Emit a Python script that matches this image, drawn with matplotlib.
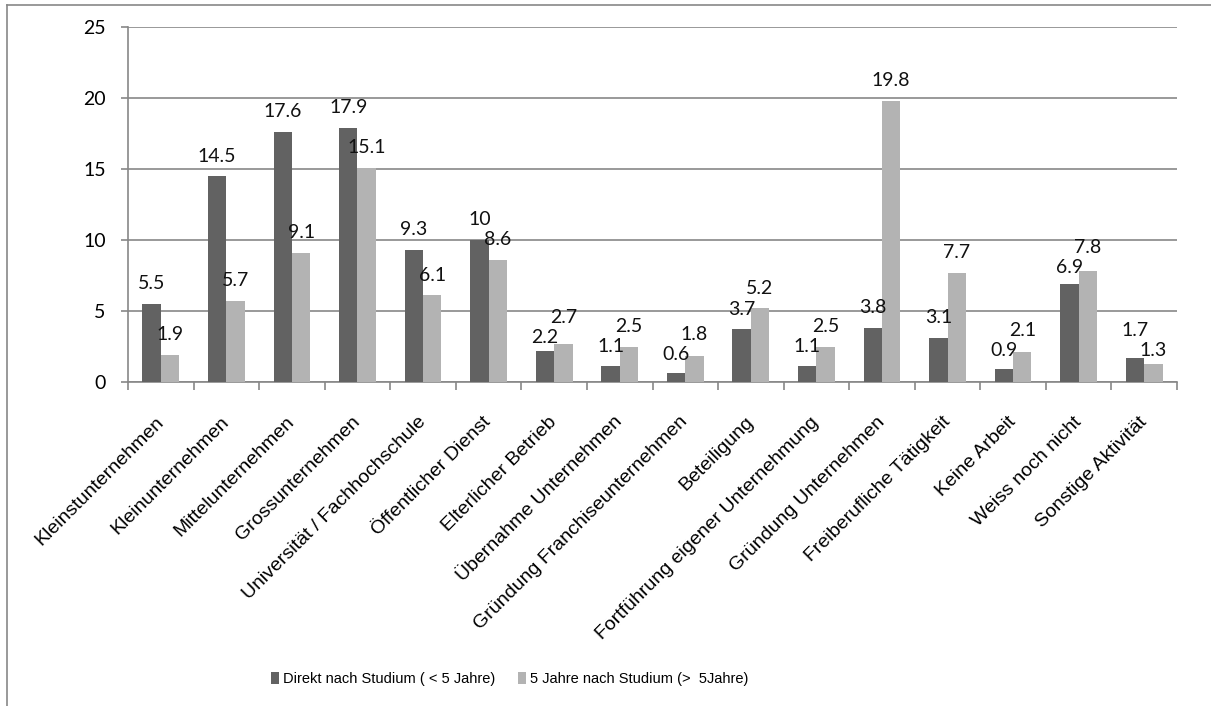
import numpy as np
import matplotlib
matplotlib.use('Agg')
import matplotlib.pyplot as plt
from matplotlib.lines import Line2D

categories = ['Kleinstunternehmen', 'Kleinunternehmen', 'Mittelunternehmen',
              'Grossunternehmen', 'Universität / Fachhochschule', 'Öffentlicher Dienst',
              'Elterlicher Betrieb', 'Übernahme Unternehmen', 'Gründung Franchiseunternehmen',
              'Beteiligung', 'Fortführung eigener Unternehmung', 'Gründung Unternehmen',
              'Freiberufliche Tätigkeit', 'Keine Arbeit', 'Weiss noch nicht',
              'Sonstige Aktivität']
direkt = [5.5, 14.5, 17.6, 17.9, 9.3, 10, 2.2, 1.1, 0.6, 3.7, 1.1, 3.8, 3.1, 0.9, 6.9, 1.7]
spaeter = [1.9, 5.7, 9.1, 15.1, 6.1, 8.6, 2.7, 2.5, 1.8, 5.2, 2.5, 19.8, 7.7, 2.1, 7.8, 1.3]
series_names = ['Direkt nach Studium ( < 5 Jahre)', '5 Jahre nach Studium (>  5Jahre)']

dark = '#626262'
light = '#b3b3b3'
grey = '#878787'

fig = plt.figure(figsize=(12.11, 7.06), dpi=100)
ax = fig.add_axes([128 / 1211, 1 - 382 / 706, (1177 - 128) / 1211, (382 - 27) / 706])

x = np.arange(len(categories))
w = 0.28
b1 = ax.bar(x - w / 2, direkt, w, color=dark, label=series_names[0], zorder=3)
b2 = ax.bar(x + w / 2, spaeter, w, color=light, label=series_names[1], zorder=3)

ax.set_xlim(-0.5, len(categories) - 0.5)
ax.set_ylim(0, 25)

# value labels, pushed apart like Excel does when the two in a group would collide
pt_per_unit = (355 / 25) * 0.72
gap = 10.5
min_sep = 14.5
for i in range(len(categories)):
    y1 = direkt[i] * pt_per_unit + gap
    y2 = spaeter[i] * pt_per_unit + gap
    d = y2 - y1
    if abs(d) < min_sep:
        shift = (min_sep - abs(d)) / 2
        s = 1 if d >= 0 else -1
        y1 -= s * shift
        y2 += s * shift
    for xc, v, yo in ((x[i] - w / 2, direkt[i], y1), (x[i] + w / 2, spaeter[i], y2)):
        ax.annotate(f'{v:g}', xy=(xc, 0), xytext=(0, yo), textcoords='offset points',
                    ha='center', va='baseline', fontsize=14, family='Lato',
                    color='#111111', annotation_clip=False)

ax.set_yticks(np.arange(0, 26, 5))
ax.yaxis.grid(True, color=grey, linewidth=1.2, zorder=0)
ax.set_axisbelow(True)

for s in ('top', 'right'):
    ax.spines[s].set_visible(False)
for s in ('left', 'bottom'):
    ax.spines[s].set_color(grey)
    ax.spines[s].set_linewidth(1.2)

ax.tick_params(axis='y', length=5, width=1.2, color=grey, pad=11, labelsize=14)
for lab in ax.get_yticklabels():
    lab.set_family('Lato')

ax.set_xticks(x)
ax.set_xticks(np.arange(-0.5, len(categories), 1), minor=True)
ax.tick_params(axis='x', which='major', length=0, pad=27)
ax.tick_params(axis='x', which='minor', length=6, width=1.2, color=grey)
ax.set_xticklabels(categories, rotation=45, ha='right', va='center',
                   rotation_mode='anchor', fontsize=14, family='Liberation Sans')

fig.legend(handles=[b1, b2], labels=series_names, loc='center left',
           bbox_to_anchor=(258 / 1211, 1 - 679 / 706), ncol=2, frameon=False,
           handlelength=0.55, handleheight=0.8, handletextpad=0.25, columnspacing=1.6,
           prop={'family': 'Liberation Sans', 'size': 10.5})

# outer chart frame (cut off on the right and bottom)
x0 = 7 / 1211
y0 = 1 - 5 / 706
fig.add_artist(Line2D([x0, x0], [0, y0], color=grey, linewidth=1.2))
fig.add_artist(Line2D([x0, 1], [y0, y0], color=grey, linewidth=1.2))

fig.savefig('out.png', dpi=100)
